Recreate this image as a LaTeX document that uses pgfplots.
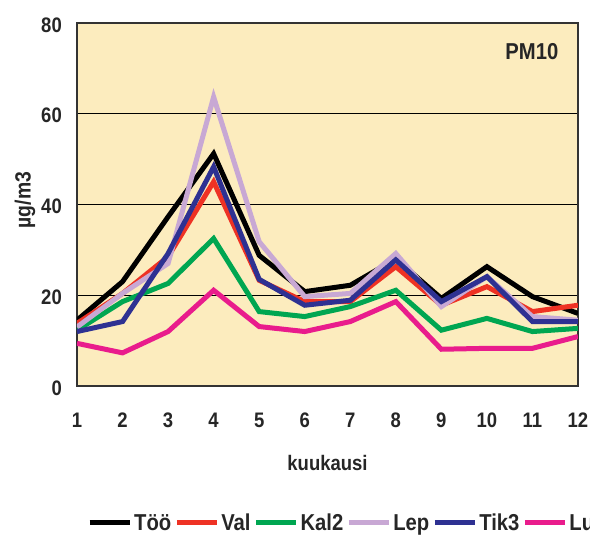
\documentclass[border=0pt]{standalone}
\usepackage{fontspec}
\setmainfont{Liberation Sans}[FakeStretch=0.88]
\usepackage{pgfplots}
\pgfplotsset{compat=1.18}
\definecolor{bgyel}{RGB}{252,236,190}
\definecolor{cVal}{RGB}{238,50,36}
\definecolor{cKal}{RGB}{0,166,81}
\definecolor{cLep}{RGB}{200,168,212}
\definecolor{cTik}{RGB}{46,49,146}
\definecolor{cLuu}{RGB}{233,28,140}
\begin{document}
\begin{tikzpicture}
\fill[white] (-77pt,-150pt) rectangle (513pt,386pt);
\begin{axis}[
  at={(0pt,0pt)}, anchor=south west,
  scale only axis, width=501pt, height=363pt,
  xmin=1, xmax=12, ymin=0, ymax=80,
  xtick={1,...,12}, ytick={0,20,40,60,80},
  major tick length=0pt,
  axis background/.style={fill=bgyel},
  axis line style={draw=black!80, line width=1.5pt},
  ymajorgrids, major grid style={black, line width=1.2pt},
  /pgf/number format/assume math mode=true,
  ticklabel style={font=\bfseries\fontsize{21}{21}\selectfont, text=black!85},
  yticklabel style={anchor=east, inner sep=0pt, xshift=-15pt, yshift=-2pt},
  xticklabel style={anchor=north, inner sep=0pt, yshift=-27pt},
  xlabel={kuukausi}, ylabel={µg/m3},
  every axis x label/.style={at={(axis description cs:0.5,0)}, anchor=center, yshift=-77pt, font=\bfseries\fontsize{21}{21}\selectfont, text=black!85},
  every axis y label/.style={at={(axis description cs:-0.104,0.512)}, anchor=center, rotate=90, font=\bfseries\fontsize{22}{22}\selectfont, text=black!85},
  legend columns=6,
  legend style={at={(axis description cs:0.020,-0.377)}, anchor=west, draw=none, fill=none, inner sep=0pt,
    font=\bfseries\fontsize{23}{23}\selectfont, text=black!85,
    nodes={inner sep=2pt},
    /tikz/every even column/.append style={column sep=1pt}},
  legend image code/.code={\draw[#1] (0pt,0pt) -- (40pt,0pt);},
  every axis plot/.append style={line width=5pt},
]
\addplot[black] coordinates {(1,14.5)(2,23)(3,37.3)(4,51.2)(5,28.8)(6,20.8)(7,22.2)(8,28)(9,19.3)(10,26.3)(11,19.7)(12,16)};
\addplot[cVal] coordinates {(1,13.8)(2,20.4)(3,28.5)(4,45)(5,23.3)(6,18.6)(7,18.6)(8,26.3)(9,17.8)(10,21.9)(11,16.4)(12,17.8)};
\addplot[cKal] coordinates {(1,12.3)(2,18.6)(3,22.6)(4,32.5)(5,16.4)(6,15.3)(7,17.5)(8,21.1)(9,12.3)(10,14.9)(11,12)(12,12.7)};
\addplot[cLep] coordinates {(1,13)(2,20.4)(3,27)(4,63.7)(5,31.8)(6,19.7)(7,20.4)(8,29.2)(9,17.5)(10,24.1)(11,15.3)(12,14.5)};
\addplot[cTik] coordinates {(1,12)(2,14.2)(3,29.2)(4,48.3)(5,23.5)(6,17.8)(7,18.9)(8,27.8)(9,18.6)(10,24.1)(11,14.2)(12,14.2)};
\addplot[cLuu] coordinates {(1,9.4)(2,7.3)(3,12)(4,21.1)(5,13.1)(6,12)(7,14.2)(8,18.6)(9,8.1)(10,8.3)(11,8.3)(12,10.9)};
\legend{Töö,Val,Kal2,Lep,Tik3,Luu}
\node[font=\bfseries\fontsize{23}{23}\selectfont, text=black!85] at (rel axis cs:0.908,0.92) {PM10};
\end{axis}
\pgfresetboundingbox
\path[use as bounding box] (-77pt,-150pt) rectangle (513pt,386pt);
\end{tikzpicture}
\end{document}
